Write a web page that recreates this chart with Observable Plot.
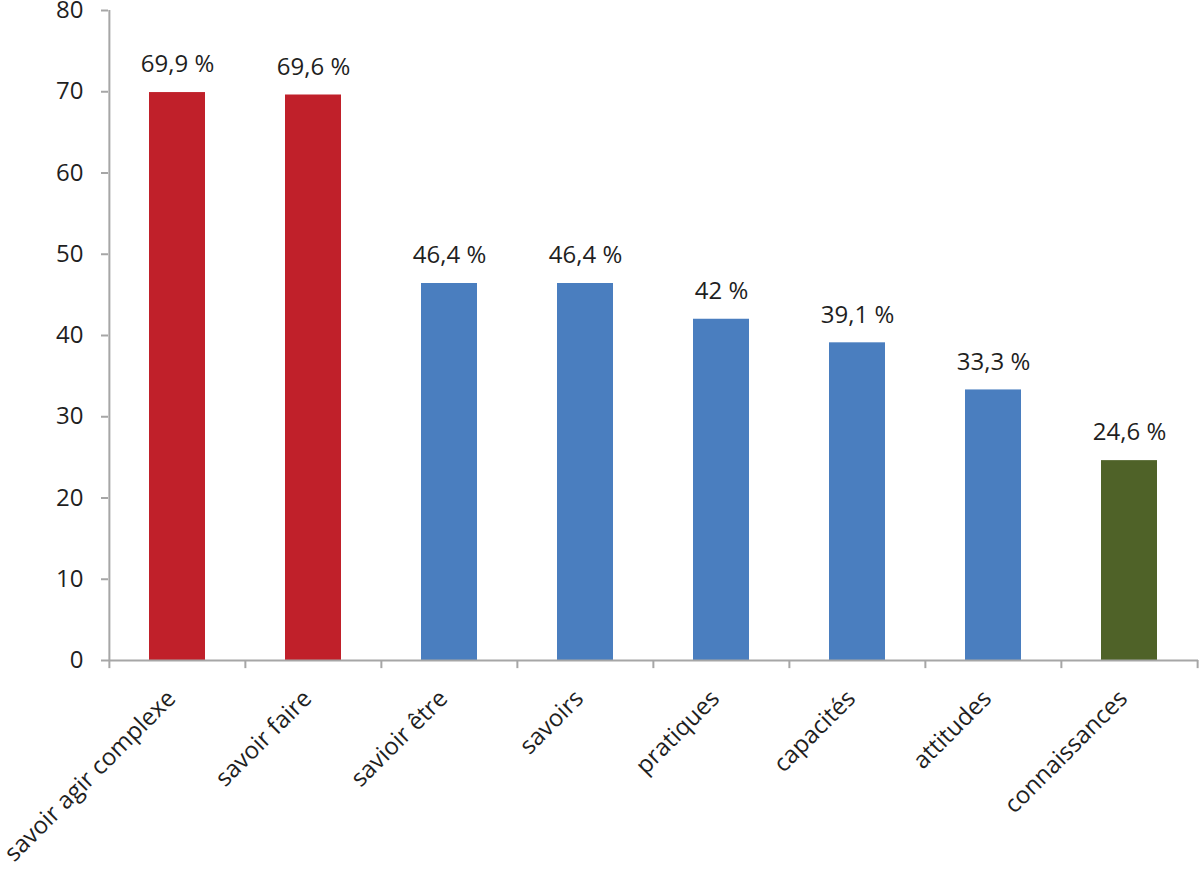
<!DOCTYPE html>
<html>
<head>
<meta charset="utf-8">
<script src="https://cdn.jsdelivr.net/npm/d3@7"></script>
<script src="https://cdn.jsdelivr.net/npm/@observablehq/plot@0.6"></script>
<style>
  html, body { margin: 0; padding: 0; background: #fff; }
  #chart svg { display: block; }
</style>
</head>
<body>
<div id="chart"></div>
<script>
const categories = ["savoir agir complexe", "savoir faire", "savioir être", "savoirs", "pratiques", "capacités", "attitudes", "connaissances"];
const values = [69.9, 69.6, 46.4, 46.4, 42, 39.1, 33.3, 24.6];
const groups = ["rouge", "rouge", "bleu", "bleu", "bleu", "bleu", "bleu", "vert"];
const yTicks = [0, 10, 20, 30, 40, 50, 60, 70, 80];

const data = categories.map((c, i) => ({cat: c, value: values[i], group: groups[i]}));
const fmt = v => String(v).replace(".", ",") + " %";

const W = 1200, H = 873;
const mL = 108, mR = 2, mT = 10, mB = 213;
const band = (W - mL - mR) / categories.length;
const axisColor = "#a6a6a6";
const textColor = "#1f1f1f";
const font = "'Open Sans', sans-serif";

const chart = Plot.plot({
  width: W,
  height: H,
  marginLeft: mL,
  marginRight: mR,
  marginTop: mT,
  marginBottom: mB,
  style: {fontFamily: font, fontSize: "24px", color: textColor, background: "#fff", overflow: "visible"},
  x: {domain: categories, padding: 0, label: null},
  y: {domain: [0, 80], label: null},
  color: {domain: ["rouge", "bleu", "vert"], range: ["#c0202a", "#4a7ebf", "#4f6228"]},
  marks: [
    Plot.barY(data, {x: "cat", y: "value", fill: "group", insetLeft: 40, insetRight: 40}),
    Plot.text(data, {x: "cat", y: "value", text: d => fmt(d.value), dy: -28, fontSize: 24, fill: textColor, letterSpacing: "-0.8px"}),
    // y axis line
    Plot.ruleX([categories[0]], {dx: -band / 2, y1: 0, y2: 80, stroke: axisColor, strokeWidth: 2}),
    Plot.axisY({ticks: yTicks, tickSize: 7, tickPadding: 18, stroke: axisColor, strokeWidth: 2, fontSize: 24, fill: textColor, label: null}),
    // x axis line
    Plot.ruleY([0], {stroke: axisColor, strokeWidth: 2}),
    // ticks between categories
    Plot.ruleX(categories, {dx: -band / 2, y1: 0, y2: -1, stroke: axisColor, strokeWidth: 2}),
    Plot.ruleX([categories[categories.length - 1]], {dx: band / 2, y1: 0, y2: -1, stroke: axisColor, strokeWidth: 2}),
    Plot.axisX({tickSize: 0, tickRotate: -45, tickPadding: 30, dx: -6, dy: 4, fontSize: 24, fill: textColor, label: null})
  ]
});
document.getElementById("chart").appendChild(chart);
</script>
</body>
</html>
